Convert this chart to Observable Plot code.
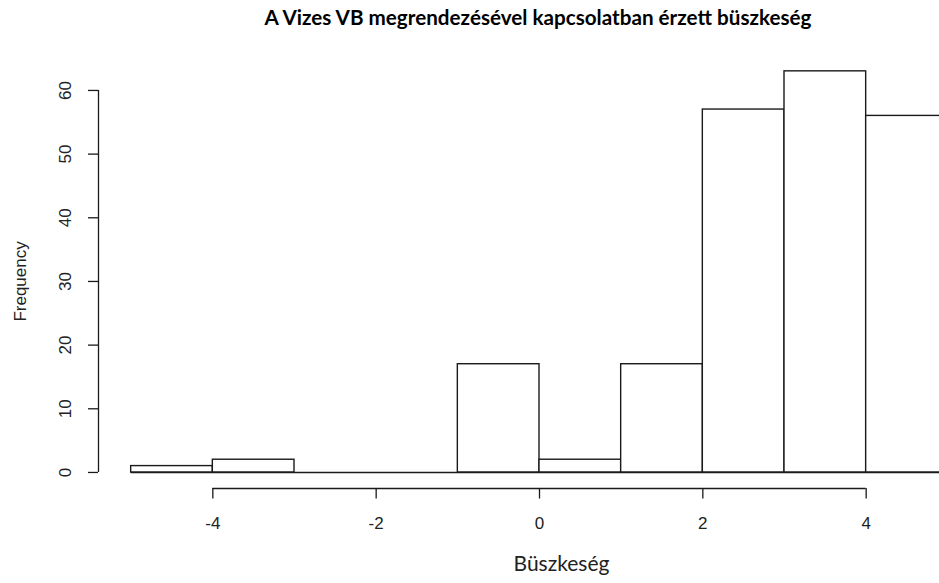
<!DOCTYPE html>
<html><head><meta charset="utf-8">
<script src="https://cdn.jsdelivr.net/npm/d3@7"></script>
<script src="https://cdn.jsdelivr.net/npm/@observablehq/plot@0.6"></script>
<style>
html,body{margin:0;padding:0;background:#fff;overflow:hidden;}
#title{position:relative;height:44px;width:939px;}
#title span{position:absolute;left:537.5px;top:7.3px;font-family:Lato,"Open Sans",sans-serif;font-weight:bold;font-size:20px;line-height:1;white-space:nowrap;color:#000;transform-origin:center;}
</style></head><body>
<div id="title"><span id="t"></span></div>
<div id="chart"></div>
<script>
const titleText = "A Vizes VB megrendezésével kapcsolatban érzett büszkeség";
const xLabel = "Büszkeség";
const yLabel = "Frequency";
const binStart = [-5, -4, -3, -2, -1, 0, 1, 2, 3, 4];
const binEnd   = [-4, -3, -2, -1, 0, 1, 2, 3, 4, 5];
const counts   = [1, 2, 0, 0, 17, 2, 17, 57, 63, 56];
const xTicks = [-4, -2, 0, 2, 4];
const yTicks = [0, 10, 20, 30, 40, 50, 60];

// title, condensed to the reference width
const t = document.getElementById("t");
t.textContent = titleText;
const tw = t.getBoundingClientRect().width;
t.style.transform = `translateX(-50%) scaleX(${547 / tw})`;

const bars = binStart.map((s, i) => ({x1: s, x2: binEnd[i], count: counts[i]}));

// R-style 4% padding of the data range
const xLo = binStart[0], xHi = binEnd[binEnd.length - 1];
const xDomain = [xLo - 0.04 * (xHi - xLo), xHi + 0.04 * (xHi - xLo)];
const yHi = d3.max(counts);
const yDomain = [-0.04 * yHi, yHi * 1.04];

const chart = Plot.plot({
  width: 939,
  height: 539,
  marginLeft: 98,
  marginRight: 0,
  marginTop: 10.8,
  marginBottom: 95,
  x: {domain: xDomain, range: [98, 980]},
  y: {domain: yDomain},
  style: {fontFamily: "'Liberation Sans', Arial, sans-serif", fontSize: "17px", color: "#222", background: "white", overflow: "hidden"},
  marks: [
    Plot.ruleY([0], {x1: xLo, x2: xHi, stroke: "#1a1a1a", strokeWidth: 1.4}),
    Plot.rectY(bars, {x1: "x1", x2: "x2", y: "count", fill: "white", stroke: "#1a1a1a", strokeWidth: 1.4}),
    // axis lines
    Plot.ruleX([xDomain[0]], {y1: yTicks[0], y2: yTicks[yTicks.length - 1], stroke: "#1a1a1a", strokeWidth: 1.3}),
    Plot.ruleY([yDomain[0]], {x1: xTicks[0], x2: xTicks[xTicks.length - 1], stroke: "#1a1a1a", strokeWidth: 1.3}),
    Plot.axisX({ticks: xTicks, tickSize: 10.5, tickPadding: 18, tickFormat: d => String(d), label: null, fontSize: 17, strokeWidth: 1.3, stroke: "#1a1a1a"}),
    Plot.axisY({ticks: yTicks, tickSize: 10, tickFormat: () => "", label: null, strokeWidth: 1.3, stroke: "#1a1a1a"}),
    Plot.text(yTicks, {x: xDomain[0], y: d => d, text: d => String(d), rotate: -90, dx: -33, fontSize: 17, fill: "#222"}),
    Plot.text([yLabel], {x: xDomain[0], y: (yTicks[0] + yTicks[yTicks.length - 1]) / 2, text: d => d, rotate: -90, dx: -78, fontSize: 17, fill: "#222"}),
    Plot.text([xLabel], {x: () => (xDomain[0] + xDomain[1]) / 2, frameAnchor: "bottom", text: d => d, dx: 22, dy: 82.3, fontFamily: "Lato, 'Open Sans', sans-serif", fontSize: 21, fill: "#222"})
  ]
});
document.getElementById("chart").appendChild(chart);
</script>
</body></html>
